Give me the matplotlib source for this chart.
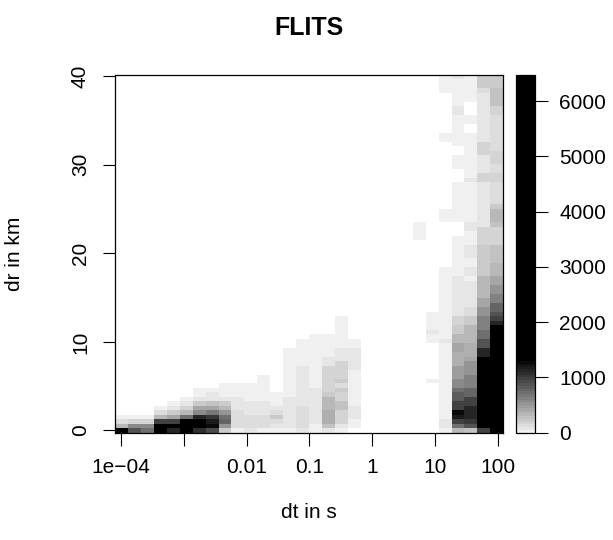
import numpy as np
import matplotlib
matplotlib.use("Agg")
import matplotlib.pyplot as plt
from matplotlib.colors import ListedColormap, BoundaryNorm

plt.rcParams['font.family'] = ['Liberation Sans', 'DejaVu Sans']

# log10(dt) range of the 30 bins and dr range of the 80 bins
log_dt_lo, log_dt_hi, n_dt = -4.096, 2.089, 30
dr_lo, dr_hi, n_dr = -0.25, 40.15, 80

# counts per dt-bin, as runs of dr-bins: (first row, last row, count)
runs = [
    [(0, 0, 1450), (1, 1, 300), (2, 2, 120), (3, 3, 20)],
    [(0, 0, 870), (1, 1, 560), (2, 2, 175), (3, 3, 20)],
    [(0, 0, 700), (1, 1, 560), (2, 2, 175), (3, 3, 20)],
    [(0, 0, 1500), (1, 1, 1400), (2, 2, 950), (3, 3, 345), (4, 4, 130), (5, 5, 20)],
    [(0, 0, 1130), (1, 1, 1500), (2, 2, 960), (3, 3, 435), (4, 4, 215), (5, 5, 65), (6, 6, 20)],
    [(0, 0, 1500), (1, 1, 1600), (2, 2, 1450), (3, 3, 700), (4, 4, 345), (5, 5, 175), (6, 6, 65), (7, 7, 20)],
    [(0, 0, 1050), (1, 2, 1500), (3, 3, 1100), (4, 4, 560), (5, 5, 400), (6, 6, 200), (7, 7, 65), (8, 9, 20)],
    [(0, 0, 900), (1, 1, 1250), (2, 2, 1150), (3, 3, 1000), (4, 4, 650), (5, 5, 420), (6, 6, 280),
     (7, 7, 90), (8, 8, 50), (9, 9, 20)],
    [(0, 0, 230), (1, 1, 520), (2, 2, 780), (3, 3, 700), (4, 4, 520), (5, 5, 345), (6, 6, 215),
     (7, 7, 85), (8, 8, 45), (9, 10, 20)],
    [(0, 0, 20), (1, 4, 130), (5, 7, 85), (8, 10, 20)],
    [(0, 0, 65), (1, 3, 130), (4, 6, 65), (7, 10, 20)],
    [(0, 0, 30), (1, 3, 100), (4, 6, 65), (7, 12, 20)],
    [(0, 0, 20), (1, 1, 65), (2, 2, 130), (3, 3, 215), (4, 4, 110), (5, 5, 65), (6, 8, 20)],
    [(0, 0, 20), (1, 7, 75), (8, 18, 20)],
    [(0, 0, 65), (1, 5, 130), (6, 14, 75), (15, 20, 20)],
    [(0, 1, 20), (2, 2, 65), (3, 5, 85), (6, 9, 65), (10, 21, 20)],
    [(0, 0, 65), (1, 1, 260), (2, 4, 390), (5, 7, 300), (8, 8, 215), (9, 14, 150), (15, 16, 85), (17, 21, 20)],
    [(0, 0, 20), (1, 1, 85), (2, 4, 195), (5, 6, 260), (7, 8, 175), (9, 9, 215), (10, 10, 130),
     (11, 11, 215), (12, 15, 150), (16, 18, 85), (19, 25, 20)],
    [(1, 2, 20), (3, 5, 65), (6, 13, 20), (14, 18, 65), (19, 20, 20)],
    [],
    [],
    [],
    [],
    [(43, 46, 20)],
    [(11, 11, 20), (20, 21, 20), (22, 22, 65), (23, 26, 20)],
    [(0, 0, 10), (1, 2, 85), (3, 19, 20), (20, 20, 65), (21, 36, 20), (47, 49, 20), (65, 66, 20), (76, 79, 20)],
    [(0, 0, 300), (1, 1, 700), (2, 2, 950), (3, 3, 1150), (4, 4, 1250), (5, 6, 950), (7, 8, 820),
     (9, 9, 700), (10, 11, 565), (12, 14, 475), (15, 17, 390), (18, 19, 420), (20, 21, 310),
     (22, 23, 215), (24, 25, 175), (26, 34, 75), (35, 43, 20), (47, 55, 20), (59, 61, 20),
     (64, 70, 20), (71, 72, 85), (73, 78, 20), (79, 79, 65)],
    [(0, 0, 260), (1, 1, 860), (2, 2, 1040), (3, 5, 1120), (6, 7, 960), (8, 9, 780), (10, 12, 605),
     (13, 15, 520), (16, 16, 435), (17, 19, 390), (20, 21, 345), (22, 23, 300), (24, 25, 215),
     (26, 27, 130), (28, 33, 85), (34, 34, 20), (35, 36, 65), (37, 38, 20), (39, 41, 65), (42, 44, 20),
     (45, 46, 65), (47, 55, 20), (56, 56, 65), (57, 66, 20), (69, 70, 20), (74, 79, 20)],
    [(0, 0, 960), (1, 4, 3200), (5, 10, 2400), (11, 16, 1600), (17, 18, 1100), (19, 20, 870),
     (21, 22, 700), (23, 25, 600), (26, 27, 520), (28, 29, 435), (30, 32, 345), (33, 34, 300),
     (35, 41, 215), (42, 45, 150), (46, 55, 55), (56, 57, 150), (58, 61, 65), (62, 64, 150),
     (65, 75, 65), (76, 76, 130), (77, 79, 215)],
    [(0, 0, 6480), (1, 1, 5600), (2, 2, 4800), (3, 3, 4200), (4, 4, 3700), (5, 5, 3300), (6, 8, 3000),
     (9, 12, 2600), (13, 17, 2200), (18, 20, 1800), (21, 23, 1450), (24, 24, 1125), (25, 25, 955),
     (26, 26, 865), (27, 28, 780), (29, 30, 605), (31, 32, 520), (33, 34, 435), (35, 37, 345),
     (38, 41, 260), (42, 45, 195), (46, 46, 260), (47, 49, 345), (50, 50, 215), (51, 55, 110),
     (56, 57, 195), (58, 59, 130), (60, 62, 195), (63, 70, 110), (71, 72, 175), (73, 76, 260),
     (77, 79, 215)],
]

x_ticks = [1e-4, 1e-3, 1e-2, 0.1, 1, 10, 100]
x_labels = ['1e\u221204', '', '0.01', '0.1', '1', '10', '100']
y_ticks = [0, 10, 20, 30, 40]
cb_ticks = [0, 1000, 2000, 3000, 4000, 5000, 6000]

counts = np.zeros((n_dr, n_dt))
for k, col in enumerate(runs):
    for r0, r1, c in col:
        counts[r0:r1 + 1, k] = c
z = np.ma.masked_equal(counts, 0)

x_edges = 10 ** np.linspace(log_dt_lo, log_dt_hi, n_dt + 1)
y_edges = np.linspace(dr_lo, dr_hi, n_dr + 1)

# grey ramp up to 1300, black above
step, n_grey = 50, 26
greys = [str(0.94 * (1 - i / n_grey)) for i in range(n_grey)] + ['0.0']
cmap = ListedColormap(greys)
bounds = [i * step for i in range(n_grey + 1)] + [counts.max()]
norm = BoundaryNorm(bounds, cmap.N)

W, H = 613, 540
fig = plt.figure(figsize=(W / 100, H / 100), dpi=100)
ax = fig.add_axes([115 / W, 1 - 432.7 / H, 388.3 / W, 358 / H])
cax = fig.add_axes([516 / W, 1 - 432.7 / H, 18.5 / W, 358 / H])

mesh = ax.pcolormesh(x_edges, y_edges, z, cmap=cmap, norm=norm)
ax.set_xscale('log')
ax.set_xlim(x_edges[0], x_edges[-1])
ax.set_ylim(dr_lo, dr_hi)
ax.set_xticks(x_ticks)
ax.set_xticklabels(x_labels)
ax.xaxis.set_minor_locator(matplotlib.ticker.NullLocator())
ax.set_yticks(y_ticks)
ax.set_yticklabels([str(v) for v in y_ticks], rotation=90, va='center')
ax.tick_params(direction='out', length=9, width=0.8, labelsize=15, pad=9)
for s in ax.spines.values():
    s.set_linewidth(0.9)

cb = fig.colorbar(mesh, cax=cax, spacing='proportional', ticks=cb_ticks)
cb.ax.tick_params(direction='out', length=9, width=0.8, labelsize=15, pad=9)
cb.outline.set_linewidth(0.9)
cb.ax.minorticks_off()

fig.text(309 / W, 1 - 28 / H, 'FLITS', ha='center', va='center', fontsize=18, fontweight='bold')
fig.text(309 / W, 1 - 512 / H, 'dt in s', ha='center', va='center', fontsize=15)
fig.text(15 / W, 1 - 253.7 / H, 'dr in km', ha='center', va='center', fontsize=15, rotation=90)

fig.savefig('out.png', dpi=100)
